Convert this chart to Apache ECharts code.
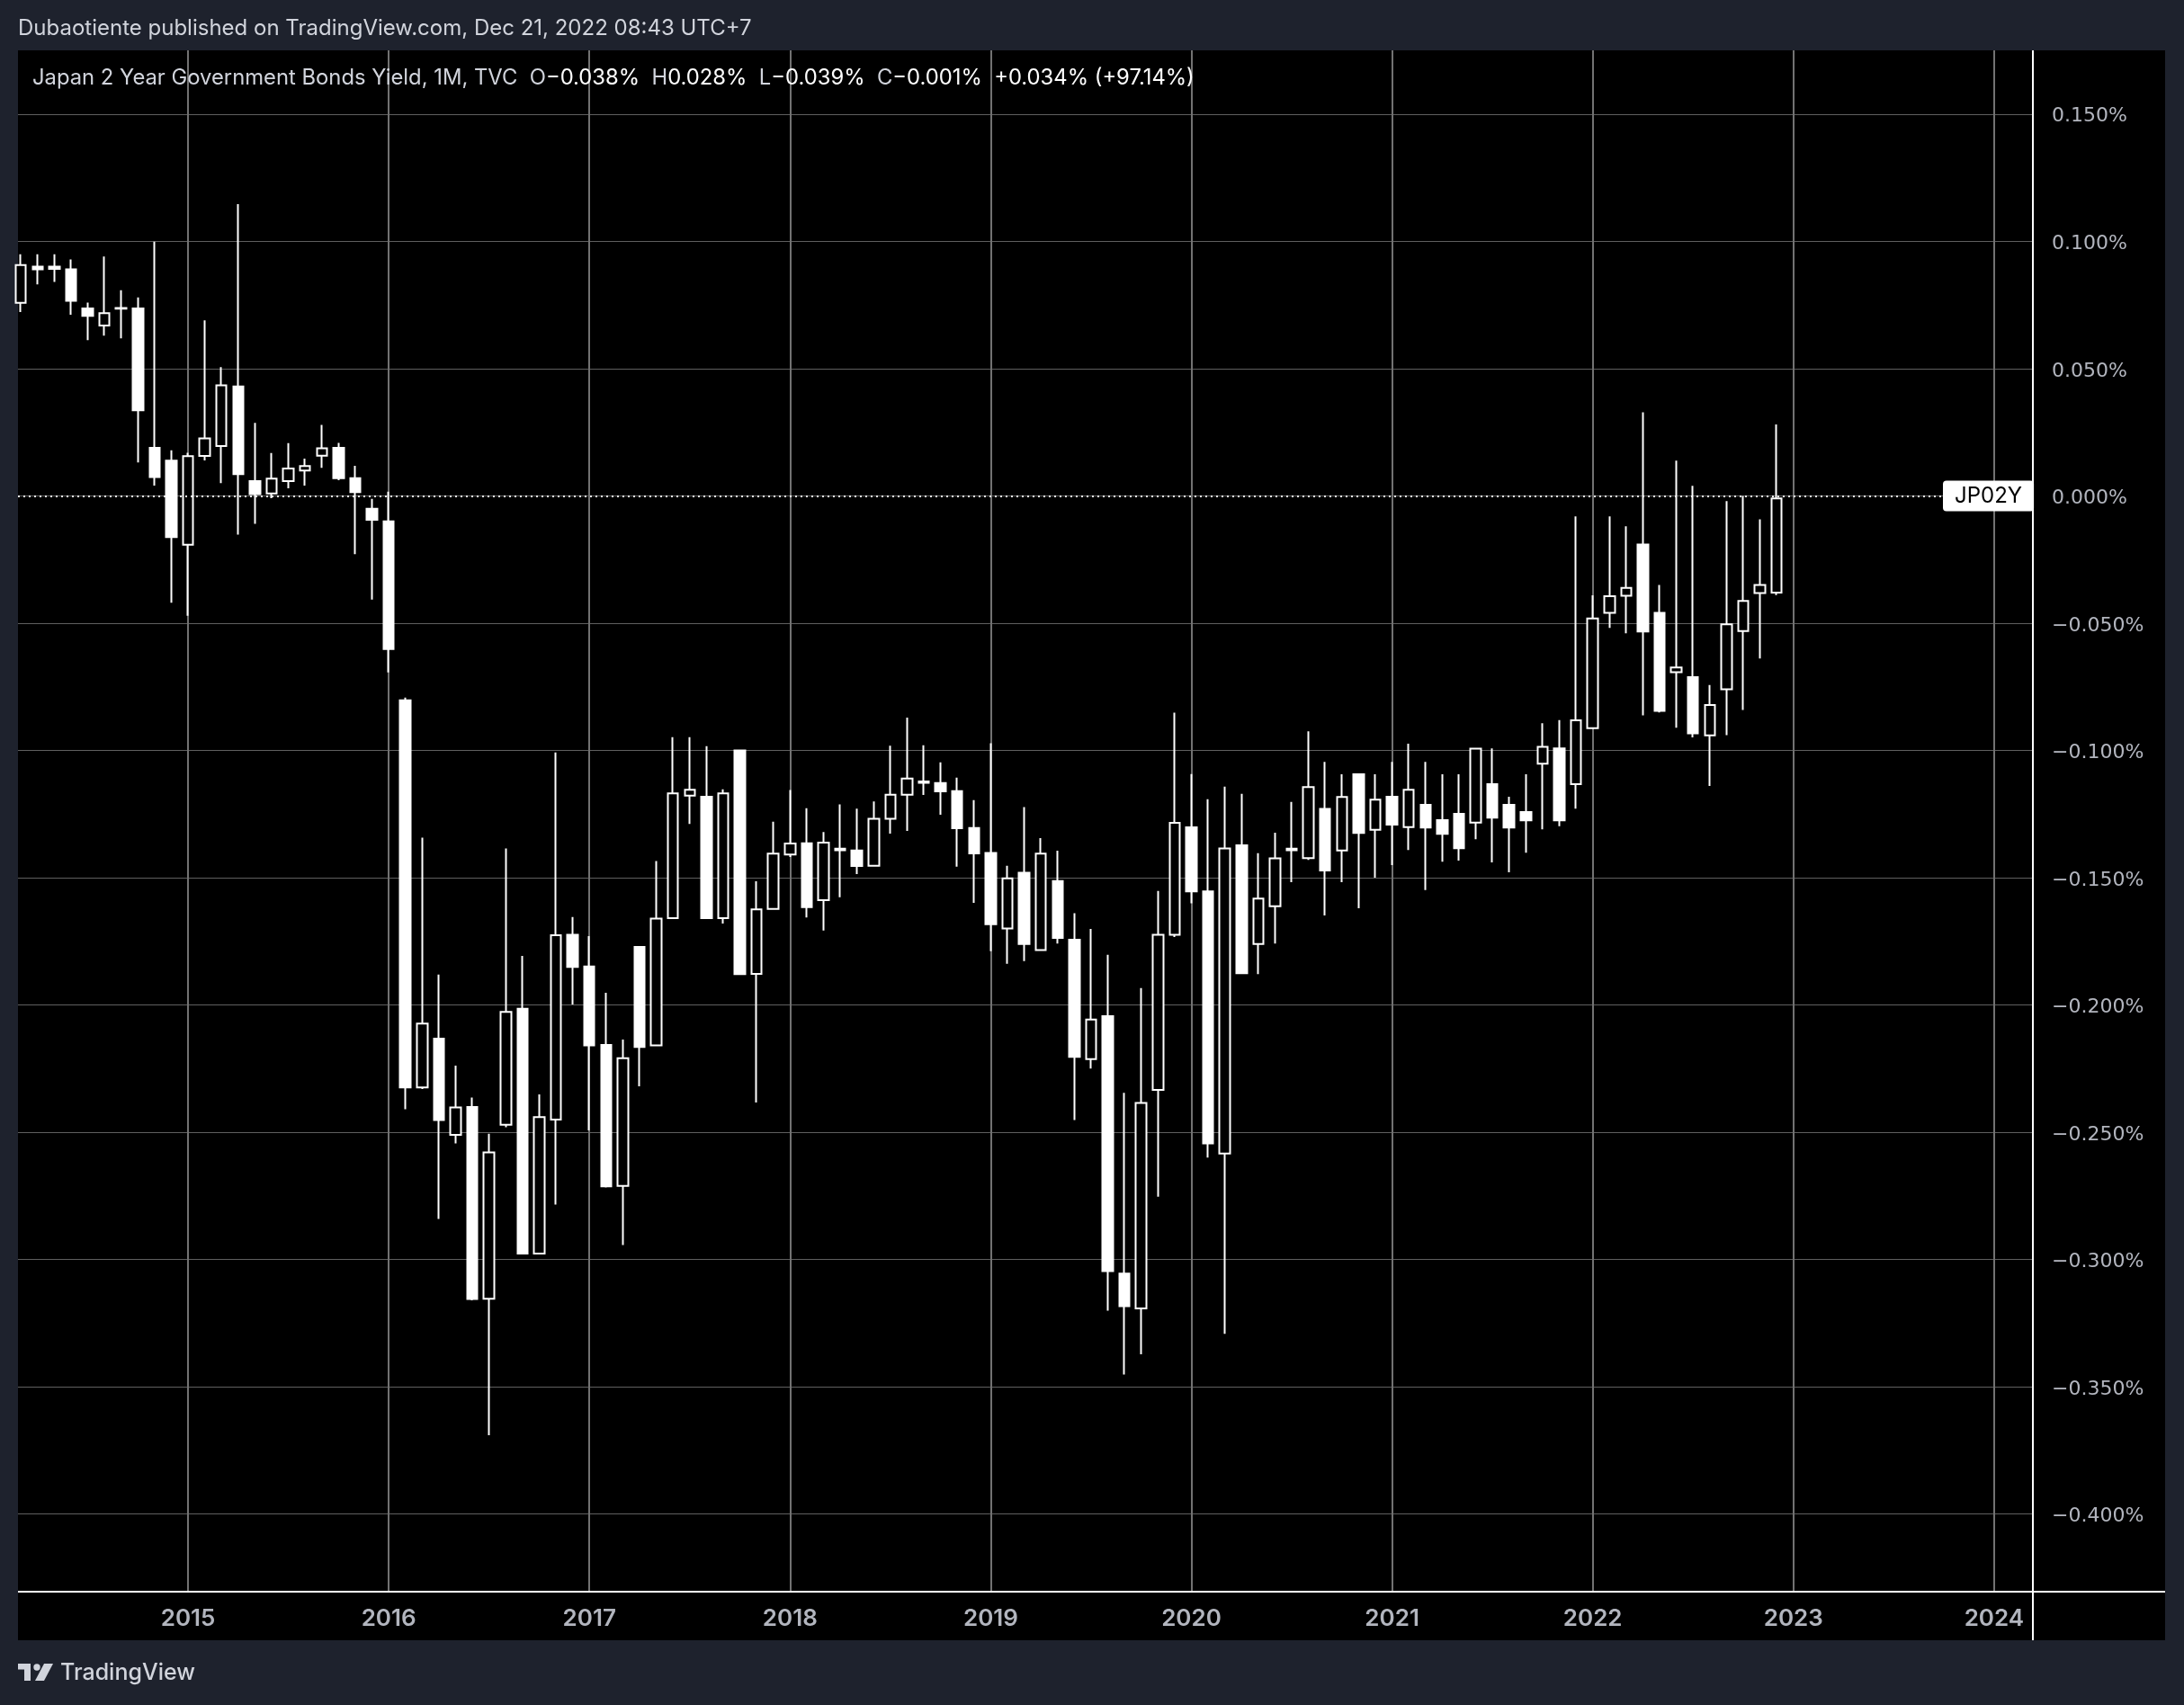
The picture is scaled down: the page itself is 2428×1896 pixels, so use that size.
<!DOCTYPE html>
<html>
<head>
<meta charset="utf-8">
<style>
  html, body { margin: 0; padding: 0; background: #1e222d; }
  #chart { width: 2428px; height: 1896px; }
</style>
<script src="https://cdn.jsdelivr.net/npm/echarts@6.0.0/dist/echarts.min.js"></script>
</head>
<body>
<div id="chart"></div>
<script>
// ---- Data (monthly candles, yield in %) ----
const months = [
  '2014-03','2014-04','2014-05','2014-06','2014-07','2014-08','2014-09','2014-10','2014-11','2014-12',
  '2015-01','2015-02','2015-03','2015-04','2015-05','2015-06','2015-07','2015-08','2015-09','2015-10','2015-11','2015-12',
  '2016-01','2016-02','2016-03','2016-04','2016-05','2016-06','2016-07','2016-08','2016-09','2016-10','2016-11','2016-12',
  '2017-01','2017-02','2017-03','2017-04','2017-05','2017-06','2017-07','2017-08','2017-09','2017-10','2017-11','2017-12',
  '2018-01','2018-02','2018-03','2018-04','2018-05','2018-06','2018-07','2018-08','2018-09','2018-10','2018-11','2018-12',
  '2019-01','2019-02','2019-03','2019-04','2019-05','2019-06','2019-07','2019-08','2019-09','2019-10','2019-11','2019-12',
  '2020-01','2020-02','2020-03','2020-04','2020-05','2020-06','2020-07','2020-08','2020-09','2020-10','2020-11','2020-12',
  '2021-01','2021-02','2021-03','2021-04','2021-05','2021-06','2021-07','2021-08','2021-09','2021-10','2021-11','2021-12',
  '2022-01','2022-02','2022-03','2022-04','2022-05','2022-06','2022-07','2022-08','2022-09','2022-10','2022-11','2022-12'
];
const opens = [
  0.0758, 0.0900, 0.0900, 0.0890, 0.0736, 0.0669, 0.0735, 0.0736, 0.0189, 0.0138,
  -0.0192, 0.0157, 0.0196, 0.0430, 0.0058, 0.0009, 0.0058, 0.0099, 0.0158, 0.0189, 0.0069, -0.0051,
  -0.0100, -0.0803, -0.2324, -0.2132, -0.2510, -0.2401, -0.3154, -0.2471, -0.2015, -0.2977, -0.2450, -0.1724,
  -0.1849, -0.2157, -0.2711, -0.1772, -0.2159, -0.1659, -0.1178, -0.1182, -0.1659, -0.1000, -0.1878, -0.1623,
  -0.1409, -0.1365, -0.1588, -0.1386, -0.1393, -0.1453, -0.1269, -0.1174, -0.1122, -0.1128, -0.1160, -0.1305,
  -0.1403, -0.1700, -0.1481, -0.1784, -0.1513, -0.1744, -0.2213, -0.2044, -0.3055, -0.3192, -0.2334, -0.1724,
  -0.1302, -0.1554, -0.2584, -0.1373, -0.1761, -0.1612, -0.1386, -0.1423, -0.1230, -0.1393, -0.1094, -0.1312,
  -0.1182, -0.1301, -0.1214, -0.1274, -0.1249, -0.1284, -0.1133, -0.1214, -0.1242, -0.1052, -0.0992, -0.1133,
  -0.0913, -0.0460, -0.0393, -0.0191, -0.0460, -0.0693, -0.0712, -0.0941, -0.0760, -0.0531, -0.0382, -0.0380
];
const highs = [
  0.0949, 0.0949, 0.0949, 0.0929, 0.0759, 0.0940, 0.0808, 0.0779, 0.0998, 0.0179,
  0.0169, 0.0689, 0.0506, 0.1146, 0.0287, 0.0168, 0.0207, 0.0146, 0.0279, 0.0208, 0.0118, -0.0012,
  0.0016, -0.0793, -0.1343, -0.1881, -0.2238, -0.2364, -0.2506, -0.1385, -0.1807, -0.2351, -0.1008, -0.1655,
  -0.1730, -0.1952, -0.2136, -0.1770, -0.1435, -0.0948, -0.0948, -0.0983, -0.1153, -0.0998, -0.1514, -0.1280,
  -0.1156, -0.1227, -0.1321, -0.1212, -0.1229, -0.1201, -0.0982, -0.0871, -0.0980, -0.1047, -0.1107, -0.1195,
  -0.0972, -0.1453, -0.1223, -0.1345, -0.1394, -0.1640, -0.1701, -0.1803, -0.2345, -0.1934, -0.1552, -0.0852,
  -0.1093, -0.1192, -0.1142, -0.1171, -0.1404, -0.1323, -0.1202, -0.0925, -0.1045, -0.1094, -0.1092, -0.1094,
  -0.1045, -0.0974, -0.1045, -0.1094, -0.1094, -0.0993, -0.0992, -0.1182, -0.1094, -0.0893, -0.0881, -0.0081,
  -0.0391, -0.0081, -0.0120, 0.0328, -0.0350, 0.0138, 0.0039, -0.0743, -0.0021, 0.0000, -0.0092, 0.0280
];
const lows = [
  0.0722, 0.0831, 0.0840, 0.0711, 0.0612, 0.0629, 0.0619, 0.0131, 0.0040, -0.0420,
  -0.0471, 0.0139, 0.0050, -0.0152, -0.0110, -0.0009, 0.0030, 0.0040, 0.0110, 0.0061, -0.0229, -0.0408,
  -0.0694, -0.2410, -0.2330, -0.2841, -0.2544, -0.3160, -0.3690, -0.2480, -0.2980, -0.2980, -0.2784, -0.1998,
  -0.2493, -0.2717, -0.2943, -0.2320, -0.2160, -0.1660, -0.1289, -0.1660, -0.1680, -0.1880, -0.2383, -0.1625,
  -0.1419, -0.1656, -0.1708, -0.1577, -0.1486, -0.1455, -0.1327, -0.1316, -0.1175, -0.1253, -0.1457, -0.1599,
  -0.1789, -0.1838, -0.1828, -0.1786, -0.1759, -0.2452, -0.2250, -0.3201, -0.3452, -0.3372, -0.2753, -0.1733,
  -0.1601, -0.2600, -0.3292, -0.1877, -0.1879, -0.1759, -0.1518, -0.1430, -0.1648, -0.1518, -0.1620, -0.1500,
  -0.1451, -0.1391, -0.1549, -0.1437, -0.1433, -0.1349, -0.1440, -0.1479, -0.1402, -0.1310, -0.1298, -0.1229,
  -0.0915, -0.0519, -0.0540, -0.0862, -0.0851, -0.0911, -0.0949, -0.1140, -0.0940, -0.0841, -0.0639, -0.0390
];
const closes = [
  0.0907, 0.0890, 0.0892, 0.0766, 0.0707, 0.0718, 0.0738, 0.0336, 0.0074, -0.0162,
  0.0156, 0.0226, 0.0434, 0.0085, 0.0007, 0.0068, 0.0107, 0.0117, 0.0187, 0.0069, 0.0015, -0.0094,
  -0.0602, -0.2324, -0.2073, -0.2452, -0.2403, -0.3155, -0.2579, -0.2027, -0.2977, -0.2441, -0.1726, -0.1851,
  -0.2159, -0.2713, -0.2209, -0.2165, -0.1661, -0.1169, -0.1155, -0.1659, -0.1169, -0.1879, -0.1625, -0.1406,
  -0.1366, -0.1616, -0.1362, -0.1392, -0.1454, -0.1269, -0.1174, -0.1111, -0.1127, -0.1161, -0.1306, -0.1405,
  -0.1683, -0.1503, -0.1761, -0.1406, -0.1737, -0.2204, -0.2057, -0.3046, -0.3183, -0.2385, -0.1724, -0.1285,
  -0.1554, -0.2544, -0.1385, -0.1875, -0.1582, -0.1424, -0.1392, -0.1144, -0.1472, -0.1183, -0.1324, -0.1194,
  -0.1292, -0.1155, -0.1303, -0.1328, -0.1384, -0.0993, -0.1264, -0.1303, -0.1275, -0.0986, -0.1275, -0.0882,
  -0.0482, -0.0394, -0.0362, -0.0533, -0.0845, -0.0674, -0.0933, -0.0822, -0.0505, -0.0413, -0.0350, -0.0010
];
const yearLabelBase = 2015;           // month index 0 = Jan 2015
const yTickStep = 0.05;               // price axis step (%)
const symbolName = 'JP02Y';
const titleText = 'Japan 2 Year Government Bonds Yield, 1M, TVC';
const publishText = 'Dubaotiente published on TradingView.com, Dec 21, 2022 08:43 UTC+7';

// ---- helpers ----
function monthIndex(s) {
  const [y, m] = s.split('-').map(Number);
  return (y - yearLabelBase) * 12 + (m - 1);
}
function fmtPct(v) {
  if (Math.abs(v) < 1e-9) v = 0;
  return (v < 0 ? '\u2212' : '') + Math.abs(v).toFixed(3) + '%';
}
const candleData = months.map((s, i) => [monthIndex(s), opens[i], closes[i], lows[i], highs[i]]);
const n = months.length;
const lastO = opens[n - 1], lastH = highs[n - 1], lastL = lows[n - 1], lastC = closes[n - 1];
const chg = lastC - closes[n - 2];
const chgPct = chg / Math.abs(closes[n - 2]) * 100;
const sign = v => (v >= 0 ? '+' : '\u2212');

const FONT = 'Inter, "Noto Sans", sans-serif';
const AXFONT = '"DejaVu Sans", sans-serif';

const chart = echarts.init(document.getElementById('chart'), null, { renderer: 'canvas' });

const option = {
  animation: false,
  backgroundColor: '#1e222d',
  grid: { left: 20, right: 168, top: 56, bottom: 126, containLabel: false },
  xAxis: {
    type: 'value',
    min: -10.17,
    max: 110.32,
    splitNumber: 10,
    minInterval: 12,
    maxInterval: 12,
    axisLine: { show: false },
    axisTick: { show: false },
    axisLabel: {
      showMinLabel: false,
      showMaxLabel: false,
      formatter: v => String(yearLabelBase + Math.round(v / 12)),
      color: '#b2b5be',
      fontFamily: FONT,
      fontSize: 26,
      fontWeight: 600,
      margin: 17
    },
    splitLine: {
      show: true,
      showMinLine: false,
      showMaxLine: false,
      lineStyle: { color: '#727272', width: 2 }
    }
  },
  yAxis: {
    type: 'value',
    position: 'right',
    min: -0.4305,
    max: 0.175,
    splitNumber: 12,
    minInterval: yTickStep,
    maxInterval: yTickStep,
    scale: true,
    axisLine: { show: false },
    axisTick: { show: false },
    axisLabel: {
      showMinLabel: false,
      showMaxLabel: false,
      formatter: v => '{p|' + fmtPct(v) + '}',
      margin: 21,
      rich: {
        p: { color: '#b2b5be', fontFamily: AXFONT, fontSize: 22, padding: [6, 0, 0, 0] }
      }
    },
    splitLine: {
      show: true,
      showMinLine: false,
      showMaxLine: false,
      lineStyle: { color: '#5f5f5f', width: 1 }
    }
  },
  series: [{
    type: 'candlestick',
    data: candleData,
    encode: { x: 0, y: [1, 2, 3, 4] },
    barWidth: 12,
    itemStyle: {
      color: '#000000',
      color0: '#ffffff',
      borderColor: '#ffffff',
      borderColor0: '#ffffff',
      borderWidth: 2
    },
    markLine: {
      silent: true,
      symbol: ['none', 'none'],
      data: [{ yAxis: lastC }],
      lineStyle: { color: '#ffffff', type: [2, 4], width: 2 },
      label: {
        show: true,
        position: 'end',
        distance: 0,
        offset: [-100, 0],
        formatter: symbolName,
        color: '#000000',
        backgroundColor: '#ffffff',
        borderRadius: 4,
        fontFamily: FONT,
        fontSize: 24,
        padding: [5, 13, 5, 13]
      }
    }
  }],
  graphic: [
    { type: 'rect', z: -100, silent: true, shape: { x: 20, y: 56, width: 2387, height: 1768 }, style: { fill: '#000000' } },
    { type: 'line', z: 100, silent: true, shape: { x1: 2260, y1: 56, x2: 2260, y2: 1824 }, style: { stroke: '#ffffff', lineWidth: 2 } },
    { type: 'line', z: 100, silent: true, shape: { x1: 20, y1: 1770, x2: 2407, y2: 1770 }, style: { stroke: '#ffffff', lineWidth: 2 } },
    { type: 'text', z: 100, silent: true, x: 20, y: 32,
      style: { text: publishText, fill: '#d1d4dc', font: '24px ' + FONT, textVerticalAlign: 'middle' } },
    { type: 'text', z: 100, silent: true, x: 36, y: 87,
      style: {
        text: '{t|' + titleText + '}  {k|O}{v|' + fmtPct(lastO) + '}  {k|H}{v|' + fmtPct(lastH) + '}  {k|L}{v|' + fmtPct(lastL) +
              '}  {k|C}{v|' + fmtPct(lastC) + '}  {v|' + sign(chg) + Math.abs(chg).toFixed(3) + '% (' + sign(chgPct) + Math.abs(chgPct).toFixed(2) + '%)}',
        textVerticalAlign: 'middle',
        rich: {
          t: { fill: '#d1d4dc', fontSize: 23.8, fontFamily: FONT },
          k: { fill: '#d1d4dc', fontSize: 23.8, fontFamily: FONT },
          v: { fill: '#ffffff', fontSize: 23.8, fontFamily: FONT }
        },
        font: '23.8px ' + FONT
      } },
    // TradingView logo
    { type: 'rect', z: 100, silent: true, shape: { x: 20, y: 1850, width: 14, height: 6.5 }, style: { fill: '#d1d4dc' } },
    { type: 'rect', z: 100, silent: true, shape: { x: 27, y: 1850, width: 7, height: 19 }, style: { fill: '#d1d4dc' } },
    { type: 'circle', z: 100, silent: true, shape: { cx: 41, cy: 1854, r: 3.7 }, style: { fill: '#d1d4dc' } },
    { type: 'polygon', z: 100, silent: true, shape: { points: [[49, 1850], [59, 1850], [49, 1869], [39, 1869]] }, style: { fill: '#d1d4dc' } },
    { type: 'text', z: 100, silent: true, x: 67, y: 1860,
      style: { text: 'TradingView', fill: '#d1d4dc', font: '500 25px ' + FONT, textVerticalAlign: 'middle' } }
  ]
};
chart.setOption(option);
</script>
</body>
</html>
